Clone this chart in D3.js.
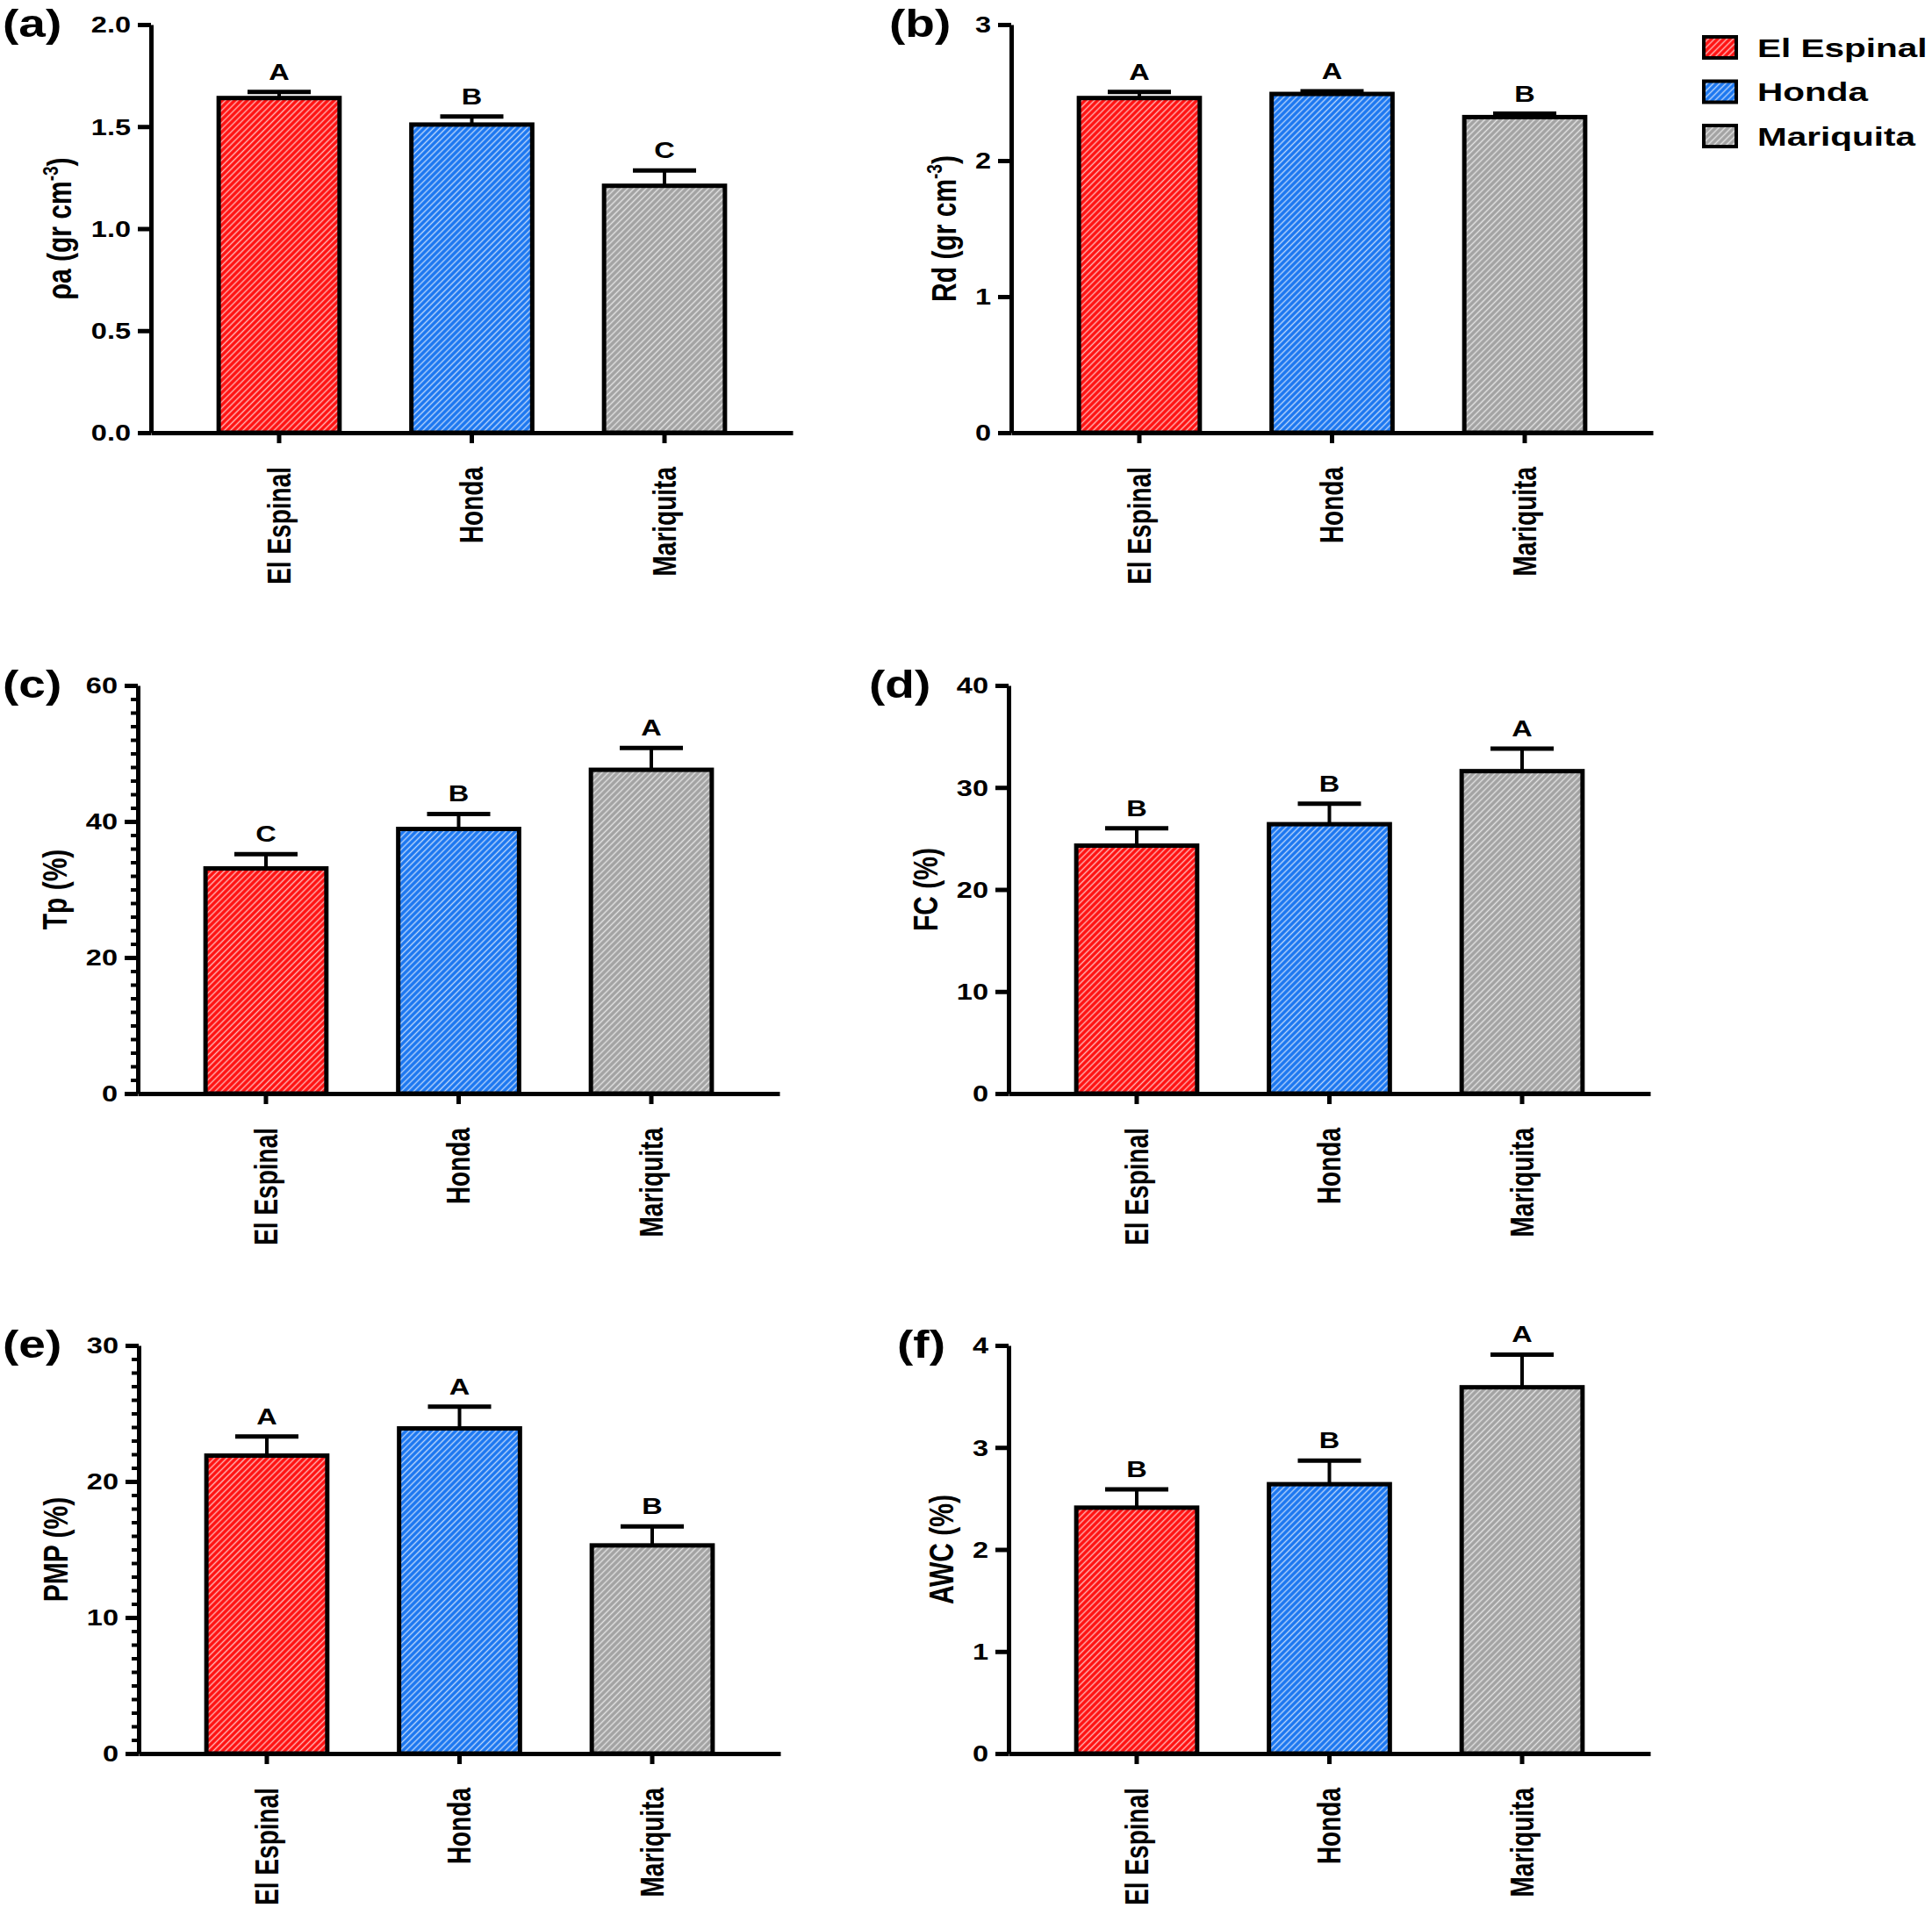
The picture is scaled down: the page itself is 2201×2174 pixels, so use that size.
<!DOCTYPE html>
<html>
<head>
<meta charset="utf-8">
<script src="https://cdn.jsdelivr.net/npm/d3@7"></script>
<style>
  body { margin: 0; background: #fff; }
  text { font-family: 'Liberation Sans', Arial, sans-serif; font-weight: bold; fill: #000; }
</style>
</head>
<body>
<svg id="fig" width="2201" height="2174"></svg>
<script>
// sites (categories) and their bar colours
const sites = ['El Espinal', 'Honda', 'Mariquita'];
const siteColors = ['#ff1010', '#1a76f0', '#a2a2a2'];

// (a) bulk density
const bulkDensity = [1.64, 1.51, 1.21];
const bulkDensityErr = [0.03, 0.04, 0.075];
const bulkDensityLetters = ['A', 'B', 'C'];

// (b) real density
const realDensity = [2.46, 2.49, 2.32];
const realDensityErr = [0.045, 0.02, 0.025];
const realDensityLetters = ['A', 'A', 'B'];

// (c) total porosity
const porosity = [33.1, 38.9, 47.6];
const porosityErr = [2.1, 2.2, 3.2];
const porosityLetters = ['C', 'B', 'A'];

// (d) field capacity
const fieldCap = [24.3, 26.4, 31.6];
const fieldCapErr = [1.7, 2.0, 2.2];
const fieldCapLetters = ['B', 'B', 'A'];

// (e) permanent wilting point
const wilting = [21.9, 23.9, 15.3];
const wiltingErr = [1.4, 1.6, 1.4];
const wiltingLetters = ['A', 'A', 'B'];

// (f) available water content
const awc = [2.41, 2.64, 3.59];
const awcErr = [0.18, 0.23, 0.32];
const awcLetters = ['B', 'B', 'A'];

// y axis tick values
const ticksA = [0, 0.5, 1.0, 1.5, 2.0];
const ticksB = [0, 1, 2, 3];
const ticksC = [0, 20, 40, 60];
const ticksD = [0, 10, 20, 30, 40];
const ticksE = [0, 10, 20, 30];
const ticksF = [0, 1, 2, 3, 4];

// panel setup (layout lives here, data comes from the arrays above)
const panels = [
  { tag: '(a)', tagX: 3, x: 172, y: 28, title: ['ρa (gr cm', '-3', ')'], values: bulkDensity, errs: bulkDensityErr, letters: bulkDensityLetters, ticks: ticksA, fmt: d3.format('.1f'), minor: null },
  { tag: '(b)', tagX: 1013, x: 1152, y: 28, title: ['Rd (gr cm', '-3', ')'], values: realDensity, errs: realDensityErr, letters: realDensityLetters, ticks: ticksB, fmt: d3.format('d'), minor: null },
  { tag: '(c)', tagX: 3, x: 157, y: 781, title: ['Tp (%)'], values: porosity, errs: porosityErr, letters: porosityLetters, ticks: ticksC, fmt: d3.format('d'), minor: 2 },
  { tag: '(d)', tagX: 990, x: 1149, y: 781, title: ['FC (%)'], values: fieldCap, errs: fieldCapErr, letters: fieldCapLetters, ticks: ticksD, fmt: d3.format('d'), minor: null },
  { tag: '(e)', tagX: 3, x: 158, y: 1533, title: ['PMP (%)'], values: wilting, errs: wiltingErr, letters: wiltingLetters, ticks: ticksE, fmt: d3.format('d'), minor: 1 },
  { tag: '(f)', tagX: 1022, x: 1149, y: 1533, title: ['AWC (%)'], values: awc, errs: awcErr, letters: awcLetters, ticks: ticksF, fmt: d3.format('d'), minor: null }
];

const plotW = 731, plotH = 465;
const SX = 1.3; // the original figure is stretched sideways

const svg = d3.select('#fig');

// hatch patterns for the bars
const defs = svg.append('defs');
siteColors.forEach((c, i) => {
  const p = defs.append('pattern')
    .attr('id', 'hatch' + i)
    .attr('patternUnits', 'userSpaceOnUse')
    .attr('width', 5).attr('height', 5)
    .attr('patternTransform', 'rotate(45)');
  p.append('rect').attr('width', 5).attr('height', 5).attr('fill', c);
  p.append('line')
    .attr('x1', 2.5).attr('y1', 0).attr('x2', 2.5).attr('y2', 5)
    .attr('stroke', '#fff').attr('stroke-width', 1.4).attr('stroke-opacity', 0.7);
});

panels.forEach(p => {
  const g = svg.append('g');
  const y = d3.scaleLinear().domain([0, d3.max(p.ticks)]).range([p.y + plotH, p.y]);
  const x = d3.scaleBand().domain(sites).range([p.x, p.x + plotW])
    .paddingInner(0.35).paddingOuter(0.34);

  const rows = sites.map((s, i) => ({ site: s, i: i, v: p.values[i], e: p.errs[i], l: p.letters[i] }));

  // bars
  g.selectAll('rect.bar').data(rows).join('rect')
    .attr('class', 'bar')
    .attr('x', d => x(d.site) + 2.5)
    .attr('width', x.bandwidth() - 5)
    .attr('y', d => y(d.v))
    .attr('height', d => y(0) - y(d.v))
    .attr('fill', d => `url(#hatch${d.i})`)
    .attr('stroke', '#000').attr('stroke-width', 5);

  // error bars (upper only)
  const cx = d => x(d.site) + x.bandwidth() / 2;
  g.selectAll('line.stem').data(rows).join('line')
    .attr('class', 'stem')
    .attr('x1', cx).attr('x2', cx)
    .attr('y1', d => y(d.v)).attr('y2', d => y(d.v + d.e))
    .attr('stroke', '#000').attr('stroke-width', 4);
  g.selectAll('line.cap').data(rows).join('line')
    .attr('class', 'cap')
    .attr('x1', d => cx(d) - 36).attr('x2', d => cx(d) + 36)
    .attr('y1', d => y(d.v + d.e)).attr('y2', d => y(d.v + d.e))
    .attr('stroke', '#000').attr('stroke-width', 5);

  // significance letters
  g.selectAll('text.letter').data(rows).join('text')
    .attr('class', 'letter')
    .attr('text-anchor', 'middle')
    .attr('font-size', 25)
    .attr('transform', d => `translate(${cx(d)},${y(d.v + d.e) - 14}) scale(${SX},1)`)
    .text(d => d.l);

  // minor ticks
  if (p.minor) {
    const minorVals = d3.range(0, d3.max(p.ticks) + 1e-9, p.minor).filter(v => !p.ticks.includes(v));
    g.append('g')
      .attr('transform', `translate(${p.x},0)`)
      .call(d3.axisLeft(y).tickValues(minorVals).tickSize(8).tickSizeOuter(0).tickFormat(''))
      .call(a => a.select('.domain').remove())
      .call(a => a.selectAll('line').attr('stroke', '#000').attr('stroke-width', 4));
  }

  // y axis
  const ya = g.append('g')
    .attr('transform', `translate(${p.x},0)`)
    .call(d3.axisLeft(y).tickValues(p.ticks).tickSize(15).tickSizeOuter(0).tickFormat(p.fmt));
  ya.select('.domain').attr('stroke', '#000').attr('stroke-width', 5);
  ya.selectAll('line').attr('stroke', '#000').attr('stroke-width', 5);
  ya.selectAll('text')
    .attr('x', null).attr('dy', '0.35em')
    .attr('font-size', 25)
    .attr('transform', `translate(-23,0) scale(${SX},1)`);

  // x axis
  const xa = g.append('g')
    .attr('transform', `translate(0,${y(0)})`)
    .call(d3.axisBottom(x).tickSize(12).tickSizeOuter(0));
  xa.select('.domain').attr('stroke', '#000').attr('stroke-width', 5);
  xa.selectAll('line').attr('stroke', '#000').attr('stroke-width', 5);
  xa.selectAll('text')
    .attr('y', null).attr('dy', '0.35em')
    .attr('text-anchor', 'end')
    .attr('font-size', 28)
    .attr('transform', `translate(0,39) scale(${SX},1) rotate(-90)`);

  // y axis title
  const bb = ya.node().getBBox();
  const t = g.append('text')
    .attr('text-anchor', 'middle')
    .attr('font-size', 30)
    .attr('transform', `translate(${p.x + bb.x - 36},${p.y + plotH / 2}) scale(${SX},1) rotate(-90)`)
    .attr('dy', '0.35em');
  t.append('tspan').text(p.title[0]);
  if (p.title.length > 1) {
    t.append('tspan').attr('font-size', 19).attr('dy', -12).text(p.title[1]);
    t.append('tspan').attr('dy', 12).text(p.title[2]);
  }

  // panel tag
  g.append('text')
    .attr('font-size', 44)
    .attr('transform', `translate(${p.tagX},${p.y + 14}) scale(1.25,1)`)
    .text(p.tag);
});

// legend
const leg = svg.append('g');
sites.forEach((s, i) => {
  const cy = 54 + i * 50.5;
  leg.append('rect')
    .attr('x', 1941).attr('y', cy - 12)
    .attr('width', 37).attr('height', 24)
    .attr('fill', `url(#hatch${i})`)
    .attr('stroke', '#000').attr('stroke-width', 4);
  leg.append('text')
    .attr('font-size', 30)
    .attr('dy', '0.35em')
    .attr('transform', `translate(2002,${cy}) scale(1.35,1)`)
    .text(s);
});
</script>
</body>
</html>
